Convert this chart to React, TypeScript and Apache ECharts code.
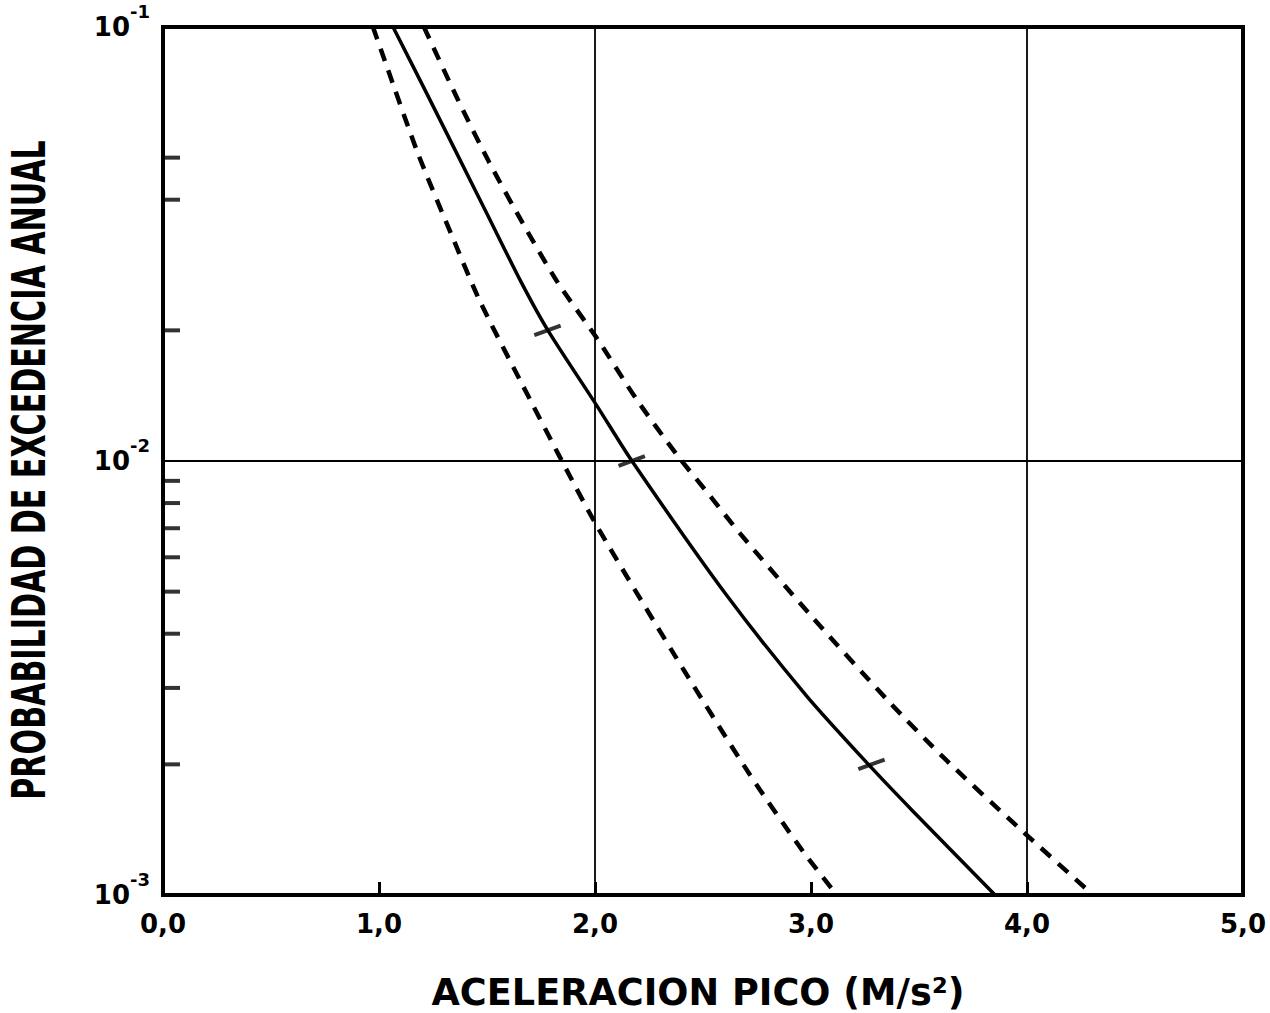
import React, { useEffect, useRef } from "react";
import * as echarts from "echarts";

// ---- data ----
const xTickLabels = ["0,0", "1,0", "2,0", "3,0", "4,0", "5,0"];

const medianA = [1.065, 1.208, 1.352, 1.505, 1.657, 1.782, 2.009, 2.171, 2.606, 2.981, 3.282, 3.472, 3.852];
const medianP = [0.1, 0.0724, 0.0521, 0.0367, 0.0259, 0.02, 0.0134, 0.01, 0.00493, 0.00287, 0.00196, 0.00156, 0.001];

const lowerA = [0.972, 1.028, 1.181, 1.338, 1.468, 1.653, 1.847, 2.009, 2.37, 2.718, 2.963, 3.12];
const lowerP = [0.1, 0.0833, 0.051, 0.033, 0.0233, 0.01535, 0.01, 0.00708, 0.00356, 0.00189, 0.00126, 0.001];

const upperA = [1.208, 1.361, 1.509, 1.667, 1.829, 2.005, 2.194, 2.38, 2.532, 2.671, 2.995, 3.352, 3.611, 3.954, 4.306];
const upperP = [0.1, 0.0687, 0.0489, 0.0352, 0.0257, 0.0193, 0.01383, 0.01032, 0.00832, 0.00681, 0.00443, 0.00282, 0.00208, 0.00144, 0.001];

const markerA = [1.78, 2.17, 3.28];
const markerP = [0.02, 0.01, 0.002];

const minorTickP = [0.05, 0.04, 0.02, 0.009, 0.008, 0.007, 0.006, 0.005, 0.004, 0.003, 0.002];

const xTitle = "ACELERACION PICO (M/s²)";
const yTitle = "PROBABILIDAD DE EXCEDENCIA ANUAL";

const zip = (a: number[], b: number[]) => a.map((v, i) => [v, b[i]]);

function measure(text: string, font: string): number {
  const c = document.createElement("canvas");
  const ctx = c.getContext("2d");
  if (!ctx) return text.length * 20;
  ctx.font = font;
  return ctx.measureText(text).width;
}

export default function App() {
  const ref = useRef<HTMLDivElement>(null);

  useEffect(() => {
    if (!ref.current) return;
    const chart = echarts.init(ref.current, undefined, { renderer: "svg" });
    const fam = '"DejaVu Sans", "Liberation Sans", Arial, sans-serif';

    const yFontSize = 46;
    const yFont = `bold ${yFontSize}px ${fam}`;
    const yScale = 660 / measure(yTitle, yFont);

    const xFontSize = 37;
    const xFont = `bold ${xFontSize}px ${fam}`;
    const xScale = 533 / measure(xTitle, xFont);

    const option: any = {
      animation: false,
      backgroundColor: "#ffffff",
      grid: {
        left: 163,
        right: 27,
        top: 27,
        bottom: 118,
        show: true,
        borderColor: "#000",
        borderWidth: 4,
      },
      xAxis: {
        type: "value",
        min: 0,
        max: 5,
        interval: 1,
        axisLine: { show: true, lineStyle: { color: "#000", width: 4 } },
        axisTick: { show: true, inside: true, length: 13, lineStyle: { color: "#000", width: 3 } },
        splitLine: { show: false },
        axisLabel: {
          margin: 16,
          color: "#000",
          fontFamily: fam,
          fontWeight: "bold",
          fontSize: 26,
          formatter: (v: number) => xTickLabels[Math.round(v)] ?? "",
        },
      },
      yAxis: {
        type: "log",
        logBase: 10,
        min: 0.001,
        max: 0.1,
        splitNumber: 2,
        axisLine: { show: true, lineStyle: { color: "#000", width: 4 } },
        axisTick: { show: false },
        splitLine: { show: false },
        axisLabel: {
          margin: 13,
          color: "#000",
          formatter: (v: number) => {
            const e = Math.round(Math.log10(v));
            return `{b|10}{s|${e}}`;
          },
          rich: {
            b: {
              fontFamily: fam,
              fontWeight: "bold",
              fontSize: 26,
              lineHeight: 50,
              verticalAlign: "middle",
              color: "#000",
            },
            s: {
              fontFamily: fam,
              fontWeight: "bold",
              fontSize: 18,
              lineHeight: 18,
              verticalAlign: "top",
              color: "#000",
            },
          },
        },
      },
      series: [
        {
          name: "median",
          type: "line",
          data: zip(medianA, medianP),
          smooth: 0.25,
          showSymbol: false,
          lineStyle: { color: "#000", width: 3.5, type: "solid" },
          z: 5,
          markLine: {
            silent: true,
            symbol: ["none", "none"],
            label: { show: false },
            lineStyle: { color: "#000", width: 1.8, type: "solid" },
            data: [{ xAxis: 2 }, { xAxis: 4 }, { yAxis: 0.01 }],
          },
        },
        {
          name: "lower",
          type: "line",
          data: zip(lowerA, lowerP),
          smooth: 0.25,
          showSymbol: false,
          lineStyle: { color: "#000", width: 4.5, type: [13, 10] },
          z: 5,
        },
        {
          name: "upper",
          type: "line",
          data: zip(upperA, upperP),
          smooth: 0.25,
          showSymbol: false,
          lineStyle: { color: "#000", width: 4.5, type: [13, 10] },
          z: 5,
        },
        {
          name: "markers",
          type: "scatter",
          data: zip(markerA, markerP),
          symbol: "rect",
          symbolSize: [28, 4],
          symbolRotate: 20,
          itemStyle: { color: "#000" },
          z: 6,
        },
        {
          name: "minorTicks",
          type: "scatter",
          data: minorTickP.map((p) => [0, p]),
          symbol: "rect",
          symbolSize: [17, 4],
          symbolOffset: [8.5, 0],
          itemStyle: { color: "#000" },
          clip: false,
          z: 6,
        },
      ],
      graphic: [
        {
          type: "text",
          x: 29,
          y: 470,
          rotation: Math.PI / 2,
          scaleX: yScale,
          scaleY: 1,
          style: {
            text: yTitle,
            font: yFont,
            fill: "#000",
            textAlign: "center",
            textVerticalAlign: "middle",
            verticalAlign: "middle",
          },
        },
        {
          type: "text",
          x: 698,
          y: 992,
          scaleX: xScale,
          scaleY: 1,
          style: {
            text: xTitle,
            font: xFont,
            fill: "#000",
            textAlign: "center",
            textVerticalAlign: "middle",
            verticalAlign: "middle",
          },
        },
      ],
    };

    chart.setOption(option);
    return () => chart.dispose();
  }, []);

  return (
    <div
      ref={ref}
      style={{ position: "fixed", left: 0, top: 0, width: 1270, height: 1013, background: "#fff" }}
    />
  );
}
